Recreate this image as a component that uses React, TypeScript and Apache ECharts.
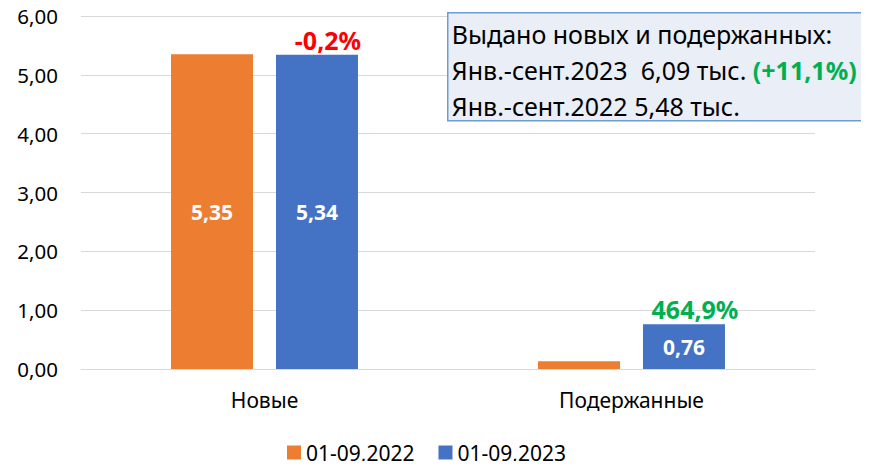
import React, { useEffect, useRef } from "react";
import * as echarts from "echarts";

const categories = ["Новые", "Подержанные"];
const seriesNames = ["01-09,2022", "01-09,2023"];
const values2022 = [5.35, 0.13];
const values2023 = [5.34, 0.76];
const changeLabels = ["-0,2%", "464,9%"];
const changeColors = ["#FF0000", "#00B050"];
const show2022Label = [true, false];
const yTicks = { min: 0, max: 6, interval: 1 };
const boxLines = [
  "Выдано новых и подержанных:",
  "Янв.-сент.2023  6,09 тыс. ",
  "(+11,1%)",
  "Янв.-сент.2022 5,48 тыс.",
];

const FONT = "'Noto Sans', 'Open Sans', sans-serif";
const fmt = (v: number) => v.toFixed(2).replace(".", ",");

export default function App() {
  const ref = useRef<HTMLDivElement>(null);
  useEffect(() => {
    if (!ref.current) return;
    const chart = echarts.init(ref.current, undefined, { renderer: "svg" });
    chart.setOption({
      animation: false,
      textStyle: { fontFamily: FONT },
      grid: { left: 81, right: 54, top: 16, bottom: 100, containLabel: false },
      legend: {
        bottom: 1,
        left: 282,
        icon: "rect",
        itemWidth: 14,
        itemHeight: 14,
        itemGap: 24,
        textStyle: { fontFamily: FONT, fontSize: 21, color: "#000" },
        data: seriesNames,
      },
      xAxis: {
        type: "category",
        data: categories,
        axisLine: { show: true, lineStyle: { color: "#D9D9D9", width: 1 } },
        axisTick: { show: false },
        axisLabel: { fontFamily: FONT, fontSize: 21, color: "#000", margin: 20 },
      },
      yAxis: {
        type: "value",
        min: yTicks.min,
        max: yTicks.max,
        interval: yTicks.interval,
        axisLine: { show: false },
        axisTick: { show: false },
        splitLine: { lineStyle: { color: "#D9D9D9", width: 1 } },
        axisLabel: { fontFamily: FONT, fontSize: 20.5, color: "#000", margin: 23, formatter: (v: number) => fmt(v) },
      },
      series: [
        {
          name: seriesNames[0],
          type: "bar",
          barWidth: 82,
          barGap: "28%",
          itemStyle: { color: "#ED7D31" },
          data: values2022.map((v, i) => ({
            value: v,
            label: { show: show2022Label[i] },
          })),
          label: {
            position: "inside",
            color: "#fff",
            fontWeight: "bold",
            fontFamily: FONT,
            fontSize: 21,
            formatter: (p: any) => fmt(p.value),
          },
        },
        {
          name: seriesNames[1],
          type: "bar",
          barWidth: 82,
          barGap: "28%",
          itemStyle: { color: "#4472C4" },
          data: values2023,
          label: {
            show: true,
            position: "inside",
            color: "#fff",
            fontWeight: "bold",
            fontFamily: FONT,
            fontSize: 21,
            formatter: (p: any) => fmt(p.value),
          },
          markPoint: {
            symbol: "rect",
            symbolSize: 1,
            itemStyle: { color: "rgba(0,0,0,0)" },
            data: categories.map((c, i) => ({
              coord: [c, values2023[i]],
              label: {
                show: true,
                position: "top",
                distance: 2,
                offset: [11, 0],
                formatter: changeLabels[i],
                color: changeColors[i],
                fontWeight: "bold",
                fontFamily: FONT,
                fontSize: 25,
              },
            })),
          },
        },
      ],
      graphic: [
        {
          type: "group",
          left: 447,
          top: 12,
          z: 100,
          children: [
            {
              type: "rect",
              z: 100,
              shape: { x: 0, y: 0, width: 430, height: 108 },
              style: { fill: "#E9EEF7", stroke: "#6F9BD6", lineWidth: 1.5 },
            },
            {
              type: "text",
              z: 101,
              x: 4,
              y: 21,
              style: {
                text: boxLines[0],
                fontFamily: FONT,
                fontSize: 25,
                fill: "#000",
                verticalAlign: "middle",
              },
            },
            {
              type: "text",
              z: 101,
              x: 4,
              y: 57,
              style: {
                text: `{a|${boxLines[1]}}{b|${boxLines[2]}}`,
                verticalAlign: "middle",
                rich: {
                  a: { fontFamily: FONT, fontSize: 25, fill: "#000" },
                  b: { fontFamily: FONT, fontSize: 25, fill: "#00B050", fontWeight: "bold" },
                },
              },
            },
            {
              type: "text",
              z: 101,
              x: 4,
              y: 93,
              style: {
                text: boxLines[3],
                fontFamily: FONT,
                fontSize: 25,
                fill: "#000",
                verticalAlign: "middle",
              },
            },
          ],
        },
      ],
    });
    return () => chart.dispose();
  }, []);
  return <div ref={ref} style={{ width: 869, height: 469, margin: -8 }} />;
}
